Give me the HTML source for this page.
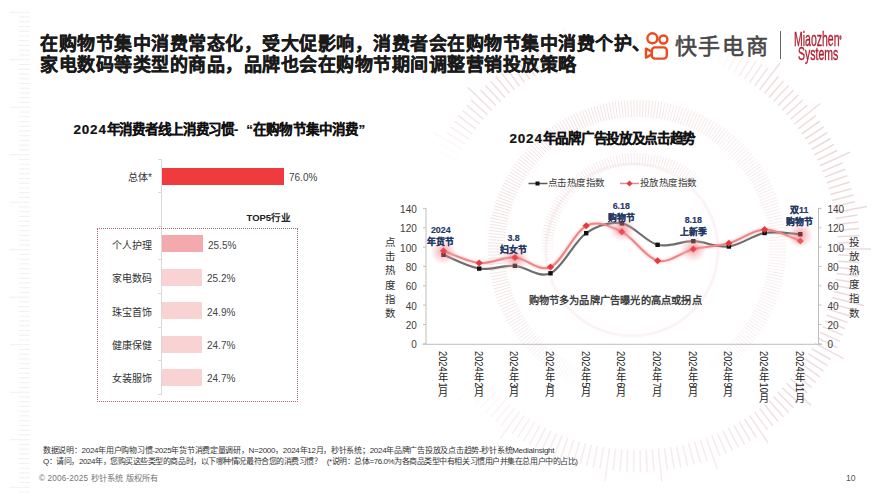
<!DOCTYPE html>
<html lang="zh-CN">
<head>
<meta charset="utf-8">
<style>
html,body{margin:0;padding:0;}
body{width:889px;height:500px;position:relative;overflow:hidden;background:#fff;font-family:"Liberation Sans",sans-serif;color:#222;}
.a{position:absolute;white-space:nowrap;}
#title{left:40px;top:34px;font-size:18px;letter-spacing:0.5px;line-height:21px;font-weight:700;color:#1a1a1a;-webkit-text-stroke:0.35px #1a1a1a;}
#ks{left:674.5px;top:34.5px;font-size:22px;letter-spacing:1.9px;line-height:24px;color:#474747;-webkit-text-stroke:0.55px #474747;}
#div{left:780px;top:31px;width:1px;height:28px;background:#666;}
.mz{color:#b01e2e;font-size:21px;line-height:21px;transform-origin:0 0;transform:scaleX(0.5);-webkit-text-stroke:0.4px #b01e2e;}
#ltitle{left:73.5px;top:120.5px;font-size:13.5px;line-height:18px;font-weight:bold;color:#111;}
.lab{font-size:10px;line-height:12px;color:#333;text-align:right;width:60px;}
.val{font-size:10px;line-height:12px;color:#444;}
.bar{position:absolute;left:162px;height:17px;}
#box{left:97px;top:228px;width:199px;height:172px;border:1px dotted #a86e76;}
#axis{left:161px;top:159px;width:1px;height:235px;background:#d9d9d9;}
.tk{position:absolute;left:158px;width:4px;height:1px;background:#d9d9d9;}
#top5{left:246.5px;top:211px;font-size:9.5px;line-height:14px;font-weight:bold;color:#222;}
#rtitle{left:509.5px;top:130px;font-size:13.5px;line-height:18px;font-weight:bold;color:#111;}
.foot{font-size:8px;line-height:10px;color:#333;}
.leg{font-size:9.5px;letter-spacing:-0.55px;line-height:12px;color:#383838;}
.ann{width:60px;text-align:center;font-size:8.9px;line-height:12.2px;font-weight:bold;color:#1f3864;-webkit-text-stroke:0.15px #1f3864;}
.ytl{font-size:10.5px;line-height:14.2px;color:#333;width:12px;text-align:center;}
#wm{left:528.5px;top:294.2px;letter-spacing:0.2px;font-size:10.2px;line-height:14px;font-weight:bold;color:#404040;}
.dg{letter-spacing:0.8px;}
.cj{letter-spacing:-0.3px;}
.cj2{letter-spacing:0.2px;}
#ltitle,#rtitle{-webkit-text-stroke:0.2px #111;}
</style>
</head>
<body>
<!-- decorations -->
<svg class="a" style="left:0;top:0" width="889" height="500" id="deco">
<path d="M475.8 369.1L458.2 382.3" stroke="#d4a4aa" stroke-opacity="0.000" stroke-width="1.5" fill="none"/>
<path d="M487.5 383.3L471.1 398.0M483.5 378.7L458.3 400.0M479.6 374.0L462.3 387.7M456.7 160.2L436.9 150.5M459.5 154.8L440.0 144.4M579.6 56.4L573.3 35.3M717.4 64.8L730.7 34.6" stroke="#d4a4aa" stroke-opacity="0.042" stroke-width="1.5" fill="none"/>
<path d="M500.4 396.4L485.4 412.6M496.0 392.2L480.5 407.9M491.7 387.8L475.7 403.0M462.4 149.4L433.8 133.0M573.7 58.2L563.3 26.9M723.0 67.3L732.4 47.5" stroke="#d4a4aa" stroke-opacity="0.084" stroke-width="1.5" fill="none"/>
<path d="M514.4 408.3L501.0 425.7M509.6 404.5L495.7 421.5M505.0 400.5L490.5 417.1M465.5 144.1L446.8 132.6M567.9 60.2L560.4 39.6M728.5 70.0L738.5 50.5M733.9 72.9L744.6 53.6" stroke="#d4a4aa" stroke-opacity="0.126" stroke-width="1.5" fill="none"/>
<path d="M540.1 425.1L529.4 444.4M534.7 422.0L523.5 441.0M529.5 418.8L517.7 437.4M524.4 415.5L512.0 433.7M519.4 412.0L500.0 438.7M468.8 138.9L450.4 126.9M562.2 62.4L554.0 42.0M739.3 76.0L750.5 57.0" stroke="#d4a4aa" stroke-opacity="0.168" stroke-width="1.5" fill="none"/>
<path d="M717.4 433.2L726.3 453.4M711.8 435.6L720.0 456.0M706.1 437.8L717.4 468.8M700.3 439.8L707.2 460.7M694.4 441.6L700.7 462.7M688.5 443.3L694.2 464.5M682.6 444.8L687.6 466.2M676.6 446.1L680.9 467.6M670.6 447.2L674.2 468.9M664.5 448.1L667.5 469.9M658.4 448.9L661.9 481.7M652.3 449.4L654.0 471.4M646.2 449.8L647.2 471.8M640.1 450.0L640.4 472.0M633.9 450.0L633.6 472.0M627.8 449.8L626.8 471.8M621.7 449.4L620.0 471.4M615.6 448.9L613.2 470.7M609.5 448.1L605.0 480.8M603.4 447.2L599.8 468.9M597.4 446.1L593.1 467.6M591.4 444.8L586.4 466.2M585.5 443.3L579.8 464.5M579.6 441.6L573.3 462.7M573.7 439.8L566.8 460.7M567.9 437.8L560.4 458.4M562.2 435.6L549.9 466.2M556.6 433.2L547.7 453.4M551.0 430.7L541.6 450.5M545.5 428.0L535.5 447.5M472.3 133.9L454.2 121.2M556.6 64.8L547.7 44.6M744.5 79.2L756.3 60.6" stroke="#d4a4aa" stroke-opacity="0.210" stroke-width="1.5" fill="none"/>
<path d="M739.3 422.0L750.5 441.0M733.9 425.1L744.6 444.4M728.5 428.0L738.5 447.5M723.0 430.7L732.4 450.5M475.8 128.9L458.2 115.7M479.6 124.0L462.3 110.3M551.0 67.3L541.6 47.5M749.6 82.5L762.0 64.3" stroke="#d4a4aa" stroke-opacity="0.252" stroke-width="1.5" fill="none"/>
<path d="M759.6 408.3L773.0 425.7M754.6 412.0L767.5 429.8M749.6 415.5L768.1 442.8M744.5 418.8L756.3 437.4M483.5 119.3L466.7 105.1M545.5 70.0L535.5 50.5M754.6 86.0L767.5 68.2" stroke="#d4a4aa" stroke-opacity="0.294" stroke-width="1.5" fill="none"/>
<path d="M778.0 392.2L793.5 407.9M773.6 396.4L788.6 412.6M769.0 400.5L783.5 417.1M764.4 404.5L778.3 421.5M487.5 114.7L471.1 100.0M491.7 110.2L467.8 87.4M496.0 105.8L480.5 90.1M500.4 101.6L485.4 85.4M505.0 97.5L490.5 80.9M509.6 93.5L495.7 76.5M514.4 89.7L501.0 72.3M519.4 86.0L506.5 68.2M524.4 82.5L512.0 64.3M529.5 79.2L511.9 51.3M534.7 76.0L523.5 57.0M540.1 72.9L529.4 53.6M759.6 89.7L779.7 63.5" stroke="#d4a4aa" stroke-opacity="0.336" stroke-width="1.5" fill="none"/>
<path d="M824.7 320.9L845.2 328.8M822.4 326.6L842.7 335.1M820.0 332.2L840.0 341.4M817.3 337.8L837.1 347.5M814.5 343.2L843.7 358.7M811.6 348.6L830.7 359.5M808.5 353.9L827.2 365.4M805.2 359.1L823.6 371.1M801.7 364.1L819.8 376.8M798.2 369.1L815.8 382.3M794.4 374.0L811.7 387.7M790.5 378.7L807.3 392.9M786.5 383.3L811.1 405.4M782.3 387.8L798.3 403.0M764.4 93.5L778.3 76.5M769.0 97.5L783.5 80.9M773.6 101.6L788.6 85.4M778.0 105.8L793.5 90.1M782.3 110.2L798.3 95.0M786.5 114.7L802.9 100.0M790.5 119.3L807.3 105.1M794.4 124.0L820.3 103.5M798.2 128.9L815.8 115.7" stroke="#d4a4aa" stroke-opacity="0.378" stroke-width="1.5" fill="none"/>
<path d="M838.0 249.0L871.0 249.0M837.9 255.1L859.9 255.8M837.6 261.3L859.6 262.6M837.2 267.4L859.1 269.4M836.5 273.5L858.3 276.1M835.7 279.5L857.4 282.9M834.6 285.6L856.3 289.6M833.4 291.6L854.9 296.3M832.0 297.6L864.1 305.5M830.5 303.5L851.7 309.4M828.7 309.4L849.7 316.0M826.8 315.2L847.6 322.4M801.7 133.9L819.8 121.2M805.2 138.9L823.6 126.9M808.5 144.1L827.2 132.6M811.6 149.4L830.7 138.5M814.5 154.8L834.0 144.4M817.3 160.2L837.1 150.5M820.0 165.8L850.0 152.1M822.4 171.4L842.7 162.9M824.7 177.1L845.2 169.2M826.8 182.8L847.6 175.6M828.7 188.6L849.7 182.0M830.5 194.5L851.7 188.6M832.0 200.4L853.4 195.1M833.4 206.4L854.9 201.7M834.6 212.4L867.1 206.4M835.7 218.5L857.4 215.1M836.5 224.5L858.3 221.9M837.2 230.6L859.1 228.6M837.6 236.7L859.6 235.4M837.9 242.9L859.9 242.2" stroke="#d4a4aa" stroke-opacity="0.420" stroke-width="1.5" fill="none"/>
<path d="M705.4 361.9L714.2 376.4M588.4 371.7L582.1 387.5" stroke="#d4a4aa" stroke-opacity="0.000" stroke-width="0.9" fill="none"/>
<path d="M712.3 357.4L722.0 371.4M710.0 358.9L719.5 373.1M707.7 360.5L716.8 374.8M585.8 370.7L579.3 386.4M583.3 369.6L576.4 385.1" stroke="#d4a4aa" stroke-opacity="0.036" stroke-width="0.9" fill="none"/>
<path d="M716.8 354.1L727.1 367.7M714.6 355.8L724.6 369.5M580.8 368.4L573.6 383.8M578.3 367.2L570.7 382.5M575.8 366.0L568.0 381.0" stroke="#d4a4aa" stroke-opacity="0.072" stroke-width="0.9" fill="none"/>
<path d="M723.3 348.9L734.4 361.8M721.1 350.7L732.0 363.8M719.0 352.4L729.6 365.8M573.4 364.7L565.2 379.6M571.0 363.3L562.5 378.0M568.6 361.9L559.8 376.4" stroke="#d4a4aa" stroke-opacity="0.108" stroke-width="0.9" fill="none"/>
<path d="M729.4 343.3L741.2 355.5M727.4 345.2L739.0 357.6M725.3 347.1L736.7 359.7M566.3 360.5L557.2 374.8M564.0 358.9L554.5 373.1M561.7 357.4L552.0 371.4" stroke="#d4a4aa" stroke-opacity="0.144" stroke-width="0.9" fill="none"/>
<path d="M735.1 337.3L747.7 348.7M733.2 339.4L745.6 351.0M731.3 341.4L743.5 353.2M559.4 355.8L549.4 369.5M557.2 354.1L546.9 367.7" stroke="#d4a4aa" stroke-opacity="0.180" stroke-width="0.9" fill="none"/>
<path d="M769.0 249.0L786.0 249.0M769.0 251.8L786.0 252.1M768.9 254.5L785.9 255.2M768.7 257.3L785.7 258.4M768.5 260.0L785.5 261.5M768.3 262.8L785.2 264.6M768.0 265.5L784.8 267.7M767.6 268.3L784.4 270.8M767.2 271.0L783.9 273.8M766.7 273.7L783.4 276.9M766.1 276.4L782.7 280.0M765.5 279.1L782.1 283.0M764.9 281.8L781.3 286.1M764.1 284.5L780.5 289.1M763.4 287.2L779.6 292.1M762.5 289.8L778.7 295.0M761.7 292.4L777.7 298.0M760.7 295.0L776.7 300.9M759.7 297.6L775.5 303.9M758.7 300.2L774.4 306.7M757.6 302.7L773.1 309.6M756.4 305.2L771.8 312.4M755.2 307.7L770.5 315.3M754.0 310.2L769.0 318.0M752.7 312.6L767.6 320.8M751.3 315.0L766.0 323.5M749.9 317.4L764.4 326.2M748.5 319.7L762.8 328.8M746.9 322.0L761.1 331.5M745.4 324.3L759.4 334.0M743.8 326.6L757.5 336.6M742.1 328.8L755.7 339.1M740.4 331.0L753.8 341.6M738.7 333.1L751.8 344.0M736.9 335.3L749.8 346.4M555.0 352.4L544.4 365.8M552.9 350.7L542.0 363.8M550.7 348.9L539.6 361.8M548.7 347.1L537.3 359.7M546.6 345.2L535.0 357.6M544.6 343.3L532.8 355.5M542.7 341.4L530.5 353.2M763.4 210.8L779.6 205.9M764.1 213.5L780.5 208.9M764.9 216.2L781.3 211.9M765.5 218.9L782.1 215.0M766.1 221.6L782.7 218.0M766.7 224.3L783.4 221.1M767.2 227.0L783.9 224.2M767.6 229.7L784.4 227.2M768.0 232.5L784.8 230.3M768.3 235.2L785.2 233.4M768.5 238.0L785.5 236.5M768.7 240.7L785.7 239.6M768.9 243.5L785.9 242.8M769.0 246.2L786.0 245.9" stroke="#d4a4aa" stroke-opacity="0.216" stroke-width="0.9" fill="none"/>
<path d="M540.8 339.4L528.4 351.0M538.9 337.3L526.3 348.7M537.1 335.3L524.2 346.4M535.3 333.1L522.2 344.0M533.6 331.0L520.2 341.6M531.9 328.8L518.3 339.1M530.2 326.6L516.5 336.6M528.6 324.3L514.6 334.0M527.1 322.0L512.9 331.5M525.5 319.7L511.2 328.8M719.0 145.6L729.6 132.2M721.1 147.3L732.0 134.2M723.3 149.1L734.4 136.2M725.3 150.9L736.7 138.3M727.4 152.8L739.0 140.4M729.4 154.7L741.2 142.5M731.3 156.6L743.5 144.8M733.2 158.6L745.6 147.0M735.1 160.7L747.7 149.3M736.9 162.7L749.8 151.6M738.7 164.9L751.8 154.0M740.4 167.0L753.8 156.4M742.1 169.2L755.7 158.9M743.8 171.4L757.5 161.4M745.4 173.7L759.4 164.0M746.9 176.0L761.1 166.5M748.5 178.3L762.8 169.2M749.9 180.6L764.4 171.8M751.3 183.0L766.0 174.5M752.7 185.4L767.6 177.2M754.0 187.8L769.0 180.0M755.2 190.3L770.5 182.7M756.4 192.8L771.8 185.6M757.6 195.3L773.1 188.4M758.7 197.8L774.4 191.3M759.7 200.4L775.5 194.1M760.7 203.0L776.7 197.1M761.7 205.6L777.7 200.0M762.5 208.2L778.7 203.0" stroke="#d4a4aa" stroke-opacity="0.252" stroke-width="0.9" fill="none"/>
<path d="M524.1 317.4L509.6 326.2M522.7 315.0L508.0 323.5M521.3 312.6L506.4 320.8M520.0 310.2L505.0 318.0M518.8 307.7L503.5 315.3M517.6 305.2L502.2 312.4M516.4 302.7L500.9 309.6M515.3 300.2L499.6 306.7M514.3 297.6L498.5 303.9M513.3 295.0L497.3 300.9M512.3 292.4L496.3 298.0M661.7 119.3L664.9 102.6M664.4 119.9L668.0 103.3M667.1 120.5L671.0 103.9M669.8 121.1L674.1 104.7M672.5 121.9L677.1 105.5M675.2 122.6L680.1 106.4M677.8 123.5L683.0 107.3M680.4 124.3L686.0 108.3M683.0 125.3L688.9 109.3M685.6 126.3L691.9 110.5M688.2 127.3L694.7 111.6M690.7 128.4L697.6 112.9M693.2 129.6L700.4 114.2M695.7 130.8L703.3 115.5M698.2 132.0L706.0 117.0M700.6 133.3L708.8 118.4M703.0 134.7L711.5 120.0M705.4 136.1L714.2 121.6M707.7 137.5L716.8 123.2M710.0 139.1L719.5 124.9M712.3 140.6L722.0 126.6M714.6 142.2L724.6 128.5M716.8 143.9L727.1 130.3" stroke="#d4a4aa" stroke-opacity="0.288" stroke-width="0.9" fill="none"/>
<path d="M511.5 289.8L495.3 295.0M510.6 287.2L494.4 292.1M509.9 284.5L493.5 289.1M509.1 281.8L492.7 286.1M508.5 279.1L491.9 283.0M507.9 276.4L491.3 280.0M507.3 273.7L490.6 276.9M506.8 271.0L490.1 273.8M506.4 268.3L489.6 270.8M506.0 265.5L489.2 267.7M615.0 118.8L612.2 102.1M617.7 118.4L615.2 101.6M620.5 118.0L618.3 101.2M623.2 117.7L621.4 100.8M626.0 117.5L624.5 100.5M628.7 117.3L627.6 100.3M631.5 117.1L630.8 100.1M634.2 117.0L633.9 100.0M637.0 117.0L637.0 100.0M639.8 117.0L640.1 100.0M642.5 117.1L643.2 100.1M645.3 117.3L646.4 100.3M648.0 117.5L649.5 100.5M650.8 117.7L652.6 100.8M653.5 118.0L655.7 101.2M656.3 118.4L658.8 101.6M659.0 118.8L661.8 102.1" stroke="#d4a4aa" stroke-opacity="0.324" stroke-width="0.9" fill="none"/>
<path d="M505.7 262.8L488.8 264.6M505.5 260.0L488.5 261.5M505.3 257.3L488.3 258.4M505.1 254.5L488.1 255.2M505.0 251.8L488.0 252.1M505.0 249.0L488.0 249.0M505.0 246.2L488.0 245.9M505.1 243.5L488.1 242.8M505.3 240.7L488.3 239.6M505.5 238.0L488.5 236.5M505.7 235.2L488.8 233.4M506.0 232.5L489.2 230.3M506.4 229.7L489.6 227.2M506.8 227.0L490.1 224.2M507.3 224.3L490.6 221.1M507.9 221.6L491.3 218.0M508.5 218.9L491.9 215.0M509.1 216.2L492.7 211.9M509.9 213.5L493.5 208.9M510.6 210.8L494.4 205.9M511.5 208.2L495.3 203.0M512.3 205.6L496.3 200.0M513.3 203.0L497.3 197.1M514.3 200.4L498.5 194.1M515.3 197.8L499.6 191.3M516.4 195.3L500.9 188.4M517.6 192.8L502.2 185.6M518.8 190.3L503.5 182.7M520.0 187.8L505.0 180.0M521.3 185.4L506.4 177.2M522.7 183.0L508.0 174.5M524.1 180.6L509.6 171.8M525.5 178.3L511.2 169.2M527.1 176.0L512.9 166.5M528.6 173.7L514.6 164.0M530.2 171.4L516.5 161.4M531.9 169.2L518.3 158.9M533.6 167.0L520.2 156.4M535.3 164.9L522.2 154.0M537.1 162.7L524.2 151.6M538.9 160.7L526.3 149.3M540.8 158.6L528.4 147.0M542.7 156.6L530.5 144.8M544.6 154.7L532.8 142.5M546.6 152.8L535.0 140.4M548.7 150.9L537.3 138.3M550.7 149.1L539.6 136.2M552.9 147.3L542.0 134.2M555.0 145.6L544.4 132.2M557.2 143.9L546.9 130.3M559.4 142.2L549.4 128.5M561.7 140.6L552.0 126.6M564.0 139.1L554.5 124.9M566.3 137.5L557.2 123.2M568.6 136.1L559.8 121.6M571.0 134.7L562.5 120.0M573.4 133.3L565.2 118.4M575.8 132.0L568.0 117.0M578.3 130.8L570.7 115.5M580.8 129.6L573.6 114.2M583.3 128.4L576.4 112.9M585.8 127.3L579.3 111.6M588.4 126.3L582.1 110.5M591.0 125.3L585.1 109.3M593.6 124.3L588.0 108.3M596.2 123.5L591.0 107.3M598.8 122.6L593.9 106.4M601.5 121.9L596.9 105.5M604.2 121.1L599.9 104.7M606.9 120.5L603.0 103.9M609.6 119.9L606.0 103.3M612.3 119.3L609.1 102.6" stroke="#d4a4aa" stroke-opacity="0.360" stroke-width="0.9" fill="none"/>
<path d="M554.0 262.1L542.2 264.0" stroke="#d4a4aa" stroke-opacity="0.000" stroke-width="0.8" fill="none"/>
<path d="M553.7 259.5L541.8 261.0M700.0 193.4L709.0 185.5" stroke="#d4a4aa" stroke-opacity="0.030" stroke-width="0.8" fill="none"/>
<path d="M553.4 256.9L541.4 258.0M696.4 189.6L704.9 181.1M698.2 191.5L707.0 183.3" stroke="#d4a4aa" stroke-opacity="0.060" stroke-width="0.8" fill="none"/>
<path d="M553.2 254.3L541.2 255.0M694.5 187.8L702.7 179.0" stroke="#d4a4aa" stroke-opacity="0.090" stroke-width="0.8" fill="none"/>
<path d="M553.0 251.6L541.0 252.0M692.6 186.0L700.5 177.0" stroke="#d4a4aa" stroke-opacity="0.120" stroke-width="0.8" fill="none"/>
<path d="M553.0 249.0L541.0 249.0M690.5 184.3L698.2 175.0" stroke="#d4a4aa" stroke-opacity="0.150" stroke-width="0.8" fill="none"/>
<path d="M553.0 246.4L541.0 246.0M688.5 182.6L695.8 173.1" stroke="#d4a4aa" stroke-opacity="0.180" stroke-width="0.8" fill="none"/>
<path d="M553.2 243.7L541.2 243.0M686.4 181.0L693.4 171.3" stroke="#d4a4aa" stroke-opacity="0.210" stroke-width="0.8" fill="none"/>
<path d="M553.4 241.1L541.4 240.0M684.2 179.5L691.0 169.6" stroke="#d4a4aa" stroke-opacity="0.240" stroke-width="0.8" fill="none"/>
<path d="M553.7 238.5L541.8 237.0M682.0 178.1L688.4 167.9" stroke="#d4a4aa" stroke-opacity="0.270" stroke-width="0.8" fill="none"/>
<path d="M554.0 235.9L542.2 234.0M554.5 233.3L542.7 231.0M555.0 230.7L543.3 228.1M555.6 228.1L544.0 225.1M556.3 225.6L544.8 222.2M557.1 223.0L545.7 219.3M558.0 220.5L546.7 216.5M558.9 218.1L547.7 213.7M559.9 215.6L548.9 210.9M561.0 213.2L550.1 208.1M562.2 210.9L551.5 205.4M563.4 208.5L552.9 202.8M564.7 206.2L554.4 200.1M566.1 204.0L555.9 197.6M567.5 201.8L557.6 195.0M569.0 199.6L559.3 192.6M570.6 197.5L561.1 190.2M572.3 195.5L563.0 187.8M574.0 193.4L565.0 185.5M575.8 191.5L567.0 183.3M577.6 189.6L569.1 181.1M579.5 187.8L571.3 179.0M581.4 186.0L573.5 177.0M583.5 184.3L575.8 175.0M585.5 182.6L578.2 173.1M587.6 181.0L580.6 171.3M589.8 179.5L583.0 169.6M592.0 178.1L585.6 167.9M594.2 176.7L588.1 166.4M596.5 175.4L590.8 164.9M598.9 174.2L593.4 163.5M601.2 173.0L596.1 162.1M603.6 171.9L598.9 160.9M606.1 170.9L601.7 159.7M608.5 170.0L604.5 158.7M611.0 169.1L607.3 157.7M613.6 168.3L610.2 156.8M616.1 167.6L613.1 156.0M618.7 167.0L616.1 155.3M621.3 166.5L619.0 154.7M623.9 166.0L622.0 154.2M626.5 165.7L625.0 153.8M629.1 165.4L628.0 153.4M631.7 165.2L631.0 153.2M634.4 165.0L634.0 153.0M637.0 165.0L637.0 153.0M639.6 165.0L640.0 153.0M642.3 165.2L643.0 153.2M644.9 165.4L646.0 153.4M647.5 165.7L649.0 153.8M650.1 166.0L652.0 154.2M652.7 166.5L655.0 154.7M655.3 167.0L657.9 155.3M657.9 167.6L660.9 156.0M660.4 168.3L663.8 156.8M663.0 169.1L666.7 157.7M665.5 170.0L669.5 158.7M667.9 170.9L672.3 159.7M670.4 171.9L675.1 160.9M672.8 173.0L677.9 162.1M675.1 174.2L680.6 163.5M677.5 175.4L683.2 164.9M679.8 176.7L685.9 166.4" stroke="#d4a4aa" stroke-opacity="0.300" stroke-width="0.8" fill="none"/>
<circle cx="632" cy="250" r="86" fill="none" stroke="#f3d6d9" stroke-width="3" stroke-opacity="0.3"/>
<path d="M9.6 12.2H30M19.0 16.9H30M19.0 21.7H30M19.0 26.4H30M19.0 31.2H30M19.0 36.0H30M19.0 40.7H30M19.0 45.5H30M19.0 50.2H30M19.0 55.0H30M9.6 59.7H30M19.0 64.5H30M19.0 69.2H30M19.0 74.0H30M19.0 78.7H30M19.0 83.5H30M19.0 88.2H30M19.0 93.0H30M19.0 97.7H30M19.0 102.5H30M9.6 107.2H30M19.0 112.0H30M19.0 116.7H30M19.0 121.5H30M19.0 126.2H30M19.0 130.9H30M19.0 135.7H30M19.0 140.4H30M19.0 145.2H30M19.0 149.9H30M9.6 154.7H30M19.0 159.4H30M19.0 164.2H30M19.0 168.9H30M19.0 173.7H30M19.0 178.4H30M19.0 183.2H30M19.0 187.9H30M19.0 192.7H30M19.0 197.4H30M9.6 202.2H30M19.0 206.9H30M19.0 211.7H30M19.0 216.4H30M19.0 221.2H30M19.0 225.9H30M19.0 230.7H30M19.0 235.4H30M19.0 240.2H30M19.0 244.9H30M9.6 249.7H30M19.0 254.4H30M19.0 259.2H30M19.0 263.9H30M19.0 268.7H30M19.0 273.4H30M19.0 278.2H30M19.0 282.9H30M19.0 287.7H30M19.0 292.4H30M9.6 297.2H30M19.0 301.9H30M19.0 306.7H30M19.0 311.4H30M19.0 316.2H30M19.0 320.9H30M19.0 325.7H30M19.0 330.4H30M19.0 335.2H30M19.0 339.9H30M9.6 344.7H30M19.0 349.4H30M19.0 354.2H30M19.0 358.9H30M19.0 363.7H30M19.0 368.4H30M19.0 373.2H30M19.0 377.9H30M19.0 382.7H30M19.0 387.4H30M9.6 392.2H30M19.0 396.9H30M19.0 401.7H30M19.0 406.4H30M19.0 411.2H30M19.0 415.9H30M19.0 420.7H30M19.0 425.4H30M19.0 430.2H30M19.0 434.9H30M9.6 439.7H30M19.0 444.4H30M19.0 449.2H30M19.0 453.9H30M19.0 458.7H30M19.0 463.4H30M19.0 468.2H30M19.0 472.9H30M19.0 477.7H30M19.0 482.4H30M9.6 487.2H30M19.0 491.9H30" stroke="#f0f0f0" stroke-width="1" fill="none"/>
</svg>

<div class="a" id="title">在购物节集中消费常态化，受大促影响，消费者会在购物节集中消费个护、<br>家电数码等类型的商品，品牌也会在购物节期间调整营销投放策略</div>

<!-- kuaishou logo -->
<svg class="a" style="left:640px;top:28px" width="34" height="36" viewBox="640 28 34 36">
<g fill="none" stroke="#ee4a1e" stroke-width="2.4">
<circle cx="652.4" cy="38.3" r="5"/>
<circle cx="663.4" cy="39.5" r="4"/>
<rect x="651.8" y="47.4" width="15" height="11.2" rx="3.2"/>
<path d="M646,48.6 L651.8,51.8 L651.8,54.4 L646,57.6 Z" stroke-linejoin="round"/>
</g>
</svg>
<div class="a" id="ks">快手电商</div>
<div class="a" id="div"></div>
<div class="a mz" style="left:794px;top:27.5px;">Miaozhen<span style="font-size:5px;vertical-align:top">®</span></div>
<div class="a mz" style="left:797.5px;top:46px;font-size:17.5px;line-height:17.5px;transform:scaleX(0.6);">Systems</div>

<!-- left chart -->
<div class="a" id="ltitle"><span class="dg">2024</span><span class="cj">年消费者线上消费习惯</span>-<span style="margin-left:8px">“</span><span class="cj2">在购物节集中消费</span>”</div>
<div class="a" id="axis"></div>
<div class="tk" style="top:159px"></div>
<div class="tk" style="top:192px"></div>
<div class="tk" style="top:226px"></div>
<div class="tk" style="top:259px"></div>
<div class="tk" style="top:293px"></div>
<div class="tk" style="top:327px"></div>
<div class="tk" style="top:360px"></div>
<div class="tk" style="top:394px"></div>
<div class="a lab" style="left:92px;top:172.0px;">总体*</div>
<div class="bar" style="top:168px;width:122px;background:#ef3b3e;"></div>
<div class="a val" style="left:289px;top:172.0px;">76.0%</div>
<div class="a" id="top5">TOP5行业</div>
<div class="a" id="box"></div>
<div class="a lab" style="left:92px;top:239.5px;">个人护理</div>
<div class="bar" style="top:235px;width:41px;background:#f4aaad;"></div>
<div class="a val" style="left:208px;top:239.5px;">25.5%</div>
<div class="a lab" style="left:92px;top:272.5px;">家电数码</div>
<div class="bar" style="top:269px;width:40px;background:#f9d3d4;"></div>
<div class="a val" style="left:207px;top:272.5px;">25.2%</div>
<div class="a lab" style="left:92px;top:306.5px;">珠宝首饰</div>
<div class="bar" style="top:302px;width:40px;background:#f9d3d4;"></div>
<div class="a val" style="left:207px;top:306.5px;">24.9%</div>
<div class="a lab" style="left:92px;top:339.5px;">健康保健</div>
<div class="bar" style="top:336px;width:40px;background:#f9d3d4;"></div>
<div class="a val" style="left:207px;top:339.5px;">24.7%</div>
<div class="a lab" style="left:92px;top:372.5px;">女装服饰</div>
<div class="bar" style="top:369px;width:40px;background:#f9d3d4;"></div>
<div class="a val" style="left:207px;top:372.5px;">24.7%</div>

<!-- right chart -->
<div class="a" id="rtitle"><span class="dg">2024</span><span class="cj">年品牌广告投放及点击趋势</span></div>
<svg class="a" id="chart" style="left:0;top:0" width="889" height="500">
<defs><radialGradient id="glow"><stop offset="0" stop-color="#e8404c" stop-opacity="0.5"/><stop offset="0.4" stop-color="#f0858e" stop-opacity="0.42"/><stop offset="0.75" stop-color="#f6b5ba" stop-opacity="0.25"/><stop offset="1" stop-color="#fbd0d3" stop-opacity="0"/></radialGradient>
<filter id="blur" x="-20%" y="-50%" width="140%" height="200%"><feGaussianBlur stdDeviation="1.2"/></filter></defs>
<g stroke="#bfbfbf" stroke-width="1" fill="none">
<path d="M426,208 V344.3 M818.5,208 V344.3 M422.5,344.3 H822"/>
<path d="M423,343.8 H426 M818.5,343.8 H821.5"/>
<path d="M423,324.5 H426 M818.5,324.5 H821.5"/>
<path d="M423,305.1 H426 M818.5,305.1 H821.5"/>
<path d="M423,285.8 H426 M818.5,285.8 H821.5"/>
<path d="M423,266.4 H426 M818.5,266.4 H821.5"/>
<path d="M423,247.1 H426 M818.5,247.1 H821.5"/>
<path d="M423,227.8 H426 M818.5,227.8 H821.5"/>
<path d="M423,208.4 H426 M818.5,208.4 H821.5"/>
</g>
<g font-size="10" fill="#404040" font-family="Liberation Sans,sans-serif">
<text x="416.8" y="348.3" text-anchor="end">0</text>
<text x="827.5" y="348.3">0</text>
<text x="416.8" y="329.0" text-anchor="end">20</text>
<text x="827.5" y="329.0">20</text>
<text x="416.8" y="309.6" text-anchor="end">40</text>
<text x="827.5" y="309.6">40</text>
<text x="416.8" y="290.3" text-anchor="end">60</text>
<text x="827.5" y="290.3">60</text>
<text x="416.8" y="270.9" text-anchor="end">80</text>
<text x="827.5" y="270.9">80</text>
<text x="416.8" y="251.6" text-anchor="end">100</text>
<text x="827.5" y="251.6">100</text>
<text x="416.8" y="232.3" text-anchor="end">120</text>
<text x="827.5" y="232.3">120</text>
<text x="416.8" y="212.9" text-anchor="end">140</text>
<text x="827.5" y="212.9">140</text>
</g>
<path d="M443.5,250.8 C449.4,252.8 467.3,261.9 479.2,263.0 C491.1,264.1 503.0,256.7 514.9,257.4 C526.8,258.1 538.6,272.3 550.5,267.0 C562.4,261.7 574.3,231.7 586.2,225.8 C598.1,220.0 610.0,226.1 621.9,231.9 C633.8,237.7 645.7,257.8 657.6,260.7 C669.5,263.6 681.4,252.0 693.3,249.1 C705.2,246.2 717.0,246.6 728.9,243.3 C740.8,240.0 752.7,229.9 764.6,229.5 C776.5,229.1 794.4,239.0 800.3,240.9" fill="none" stroke="#f6b3b6" stroke-width="3.5" opacity="0.6" filter="url(#blur)"/>
<path d="M443.5,254.8 C449.4,257.1 467.3,266.8 479.2,268.6 C491.1,270.4 503.0,265.0 514.9,265.8 C526.8,266.6 538.6,278.7 550.5,273.3 C562.4,267.9 574.3,241.5 586.2,233.2 C598.1,224.9 610.0,221.5 621.9,223.4 C633.8,225.3 645.7,241.8 657.6,244.8 C669.5,247.8 681.4,240.9 693.3,241.2 C705.2,241.5 717.0,247.9 728.9,246.5 C740.8,245.1 752.7,235.1 764.6,233.0 C776.5,230.9 794.4,234.0 800.3,234.2" fill="none" stroke="#6e6e6e" stroke-width="2.2"/>
<path d="M443.5,250.8 C449.4,252.8 467.3,261.9 479.2,263.0 C491.1,264.1 503.0,256.7 514.9,257.4 C526.8,258.1 538.6,272.3 550.5,267.0 C562.4,261.7 574.3,231.7 586.2,225.8 C598.1,220.0 610.0,226.1 621.9,231.9 C633.8,237.7 645.7,257.8 657.6,260.7 C669.5,263.6 681.4,252.0 693.3,249.1 C705.2,246.2 717.0,246.6 728.9,243.3 C740.8,240.0 752.7,229.9 764.6,229.5 C776.5,229.1 794.4,239.0 800.3,240.9" fill="none" stroke="#ee8585" stroke-width="2"/>
<g fill="#111">
<rect x="441.3" y="252.6" width="4.4" height="4.4"/>
<rect x="477.0" y="266.4" width="4.4" height="4.4"/>
<rect x="512.7" y="263.6" width="4.4" height="4.4"/>
<rect x="548.3" y="271.1" width="4.4" height="4.4"/>
<rect x="584.0" y="231.0" width="4.4" height="4.4"/>
<rect x="619.7" y="221.2" width="4.4" height="4.4"/>
<rect x="655.4" y="242.6" width="4.4" height="4.4"/>
<rect x="691.1" y="239.0" width="4.4" height="4.4"/>
<rect x="726.7" y="244.3" width="4.4" height="4.4"/>
<rect x="762.4" y="230.8" width="4.4" height="4.4"/>
<rect x="798.1" y="232.0" width="4.4" height="4.4"/>
</g><g fill="#e8383d">
<path d="M443.5,247.3 l3.6,3.5 l-3.6,3.5 l-3.6,-3.5z"/>
<path d="M479.2,259.5 l3.6,3.5 l-3.6,3.5 l-3.6,-3.5z"/>
<path d="M514.9,253.9 l3.6,3.5 l-3.6,3.5 l-3.6,-3.5z"/>
<path d="M550.5,263.5 l3.6,3.5 l-3.6,3.5 l-3.6,-3.5z"/>
<path d="M586.2,222.3 l3.6,3.5 l-3.6,3.5 l-3.6,-3.5z"/>
<path d="M621.9,228.4 l3.6,3.5 l-3.6,3.5 l-3.6,-3.5z"/>
<path d="M657.6,257.2 l3.6,3.5 l-3.6,3.5 l-3.6,-3.5z"/>
<path d="M693.3,245.6 l3.6,3.5 l-3.6,3.5 l-3.6,-3.5z"/>
<path d="M728.9,239.8 l3.6,3.5 l-3.6,3.5 l-3.6,-3.5z"/>
<path d="M764.6,226.0 l3.6,3.5 l-3.6,3.5 l-3.6,-3.5z"/>
<path d="M800.3,237.4 l3.6,3.5 l-3.6,3.5 l-3.6,-3.5z"/>
</g>
<circle cx="443.5" cy="251.8" r="13.5" fill="url(#glow)"/>
<circle cx="514.9" cy="258.4" r="13.5" fill="url(#glow)"/>
<circle cx="621.9" cy="228.7" r="13.5" fill="url(#glow)"/>
<circle cx="693.3" cy="249.1" r="13.5" fill="url(#glow)"/>
<circle cx="800.3" cy="235.2" r="13.5" fill="url(#glow)"/>
<path d="M528.5,183.5 H547.5" stroke="#595959" stroke-width="1.5"/><rect x="535.5" y="181.5" width="4" height="4" fill="#111"/>
<path d="M620,183.5 H639" stroke="#ec8585" stroke-width="1.5"/><path d="M629.5,180.5 l3,3 l-3,3 l-3,-3z" fill="#e8383d"/>
</svg>

<div class="a leg" style="left:548px;top:177px;">点击热度指数</div>
<div class="a leg" style="left:640px;top:177px;">投放热度指数</div>
<div class="a ann" style="left:410.8px;top:224px;">2024<br>年货节</div>
<div class="a ann" style="left:483.6px;top:232px;">3.8<br>妇女节</div>
<div class="a ann" style="left:591.3px;top:199.5px;">6.18<br>购物节</div>
<div class="a ann" style="left:663.3px;top:214px;">8.18<br>上新季</div>
<div class="a ann" style="left:769.2px;top:204px;">双11<br>购物节</div>
<div class="a ytl" style="left:384px;top:235px;">点<br>击<br>热<br>度<br>指<br>数</div>
<div class="a ytl" style="left:847.5px;top:234.5px;">投<br>放<br>热<br>度<br>指<br>数</div>
<div class="a" id="wm">购物节多为品牌广告曝光的高点或拐点</div>
<svg class="a" style="left:0;top:0" width="889" height="500" font-family="Liberation Sans,sans-serif" font-size="11" fill="#222">
<text transform="translate(439.0,351) rotate(90) scale(0.84,1)">2024</text>
<text x="443.0" y="381" font-size="10.4" text-anchor="middle">年</text>
<text transform="translate(439.0,382.6) rotate(90) scale(0.84,1)">1</text>
<text x="443.0" y="396.3" font-size="10.2" text-anchor="middle">月</text>
<text transform="translate(474.7,351) rotate(90) scale(0.84,1)">2024</text>
<text x="478.7" y="381" font-size="10.4" text-anchor="middle">年</text>
<text transform="translate(474.7,382.6) rotate(90) scale(0.84,1)">2</text>
<text x="478.7" y="396.3" font-size="10.2" text-anchor="middle">月</text>
<text transform="translate(510.4,351) rotate(90) scale(0.84,1)">2024</text>
<text x="514.4" y="381" font-size="10.4" text-anchor="middle">年</text>
<text transform="translate(510.4,382.6) rotate(90) scale(0.84,1)">3</text>
<text x="514.4" y="396.3" font-size="10.2" text-anchor="middle">月</text>
<text transform="translate(546.0,351) rotate(90) scale(0.84,1)">2024</text>
<text x="550.0" y="381" font-size="10.4" text-anchor="middle">年</text>
<text transform="translate(546.0,382.6) rotate(90) scale(0.84,1)">4</text>
<text x="550.0" y="396.3" font-size="10.2" text-anchor="middle">月</text>
<text transform="translate(581.7,351) rotate(90) scale(0.84,1)">2024</text>
<text x="585.7" y="381" font-size="10.4" text-anchor="middle">年</text>
<text transform="translate(581.7,382.6) rotate(90) scale(0.84,1)">5</text>
<text x="585.7" y="396.3" font-size="10.2" text-anchor="middle">月</text>
<text transform="translate(617.4,351) rotate(90) scale(0.84,1)">2024</text>
<text x="621.4" y="381" font-size="10.4" text-anchor="middle">年</text>
<text transform="translate(617.4,382.6) rotate(90) scale(0.84,1)">6</text>
<text x="621.4" y="396.3" font-size="10.2" text-anchor="middle">月</text>
<text transform="translate(653.1,351) rotate(90) scale(0.84,1)">2024</text>
<text x="657.1" y="381" font-size="10.4" text-anchor="middle">年</text>
<text transform="translate(653.1,382.6) rotate(90) scale(0.84,1)">7</text>
<text x="657.1" y="396.3" font-size="10.2" text-anchor="middle">月</text>
<text transform="translate(688.8,351) rotate(90) scale(0.84,1)">2024</text>
<text x="692.8" y="381" font-size="10.4" text-anchor="middle">年</text>
<text transform="translate(688.8,382.6) rotate(90) scale(0.84,1)">8</text>
<text x="692.8" y="396.3" font-size="10.2" text-anchor="middle">月</text>
<text transform="translate(724.4,351) rotate(90) scale(0.84,1)">2024</text>
<text x="728.4" y="381" font-size="10.4" text-anchor="middle">年</text>
<text transform="translate(724.4,382.6) rotate(90) scale(0.84,1)">9</text>
<text x="728.4" y="396.3" font-size="10.2" text-anchor="middle">月</text>
<text transform="translate(760.1,351) rotate(90) scale(0.84,1)">2024</text>
<text x="764.1" y="381" font-size="10.4" text-anchor="middle">年</text>
<text transform="translate(760.1,382.6) rotate(90) scale(0.84,1)">10</text>
<text x="764.1" y="401.5" font-size="10.2" text-anchor="middle">月</text>
<text transform="translate(795.8,351) rotate(90) scale(0.84,1)">2024</text>
<text x="799.8" y="381" font-size="10.4" text-anchor="middle">年</text>
<text transform="translate(795.8,382.6) rotate(90) scale(0.84,1)">11</text>
<text x="799.8" y="401.5" font-size="10.2" text-anchor="middle">月</text>
</svg>
<!-- footer -->
<div class="a foot" style="left:43px;top:445.5px;letter-spacing:-0.28px;">数据说明：2024年用户购物习惯-2025年货节消费定量调研，N=2000，2024年12月，秒针系统；2024年品牌广告投放及点击趋势-秒针系统MediaInsight</div>
<div class="a foot" style="left:43px;top:456.5px;letter-spacing:-0.45px;">Q：请问，2024年，您购买这些类型的商品时，以下哪种情况最符合您的消费习惯？ &nbsp; (*说明：总体=76.0%为各商品类型中有相关习惯用户并集在总用户中的占比)</div>
<div class="a" style="left:39px;top:472.5px;font-size:8.2px;letter-spacing:0.15px;line-height:11px;color:#757575;">© 2006-2025 秒针系统 版权所有</div>
<div class="a" style="left:846px;top:472.5px;font-size:8.6px;line-height:11px;color:#555;">10</div>
</body>
</html>
